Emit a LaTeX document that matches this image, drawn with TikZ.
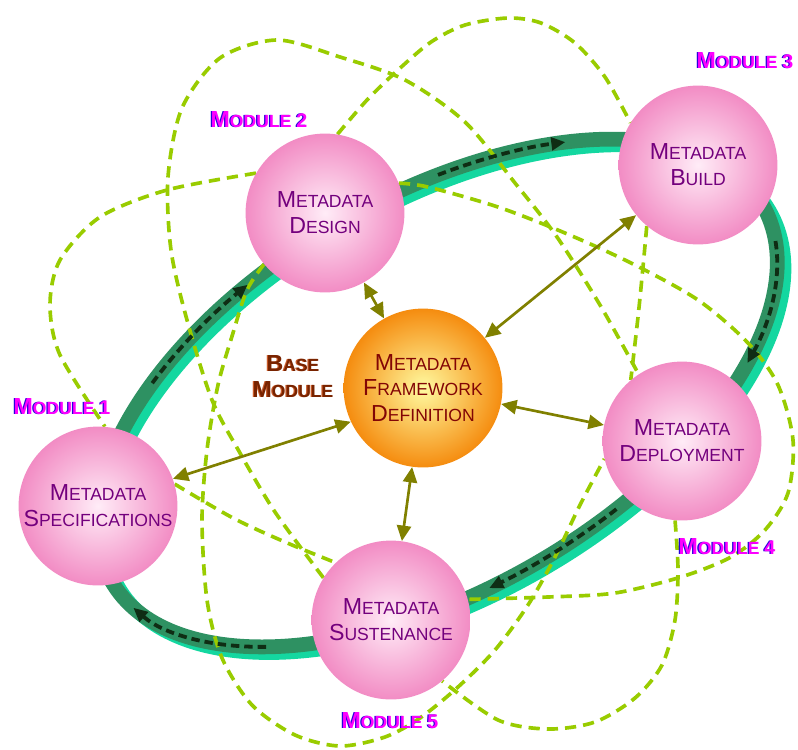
\documentclass[tikz,border=0pt]{standalone}
\usepackage{fontspec}
\setmainfont{Liberation Sans}
\usetikzlibrary{arrows.meta}
\usetikzlibrary{backgrounds}

\definecolor{modpink}{RGB}{255,0,255}
\definecolor{modblue}{RGB}{40,0,220}
\definecolor{mdpurple}{RGB}{115,0,125}
\definecolor{fwred}{RGB}{130,5,5}
\definecolor{basebrown}{RGB}{120,35,0}
\definecolor{baseshadow}{RGB}{200,90,40}
\definecolor{pinkin}{RGB}{255,236,247}
\definecolor{pinkout}{RGB}{242,140,196}
\definecolor{orangein}{RGB}{255,250,160}
\definecolor{orangeout}{RGB}{245,140,15}
\definecolor{ringdark}{RGB}{46,145,98}
\definecolor{ringlight}{RGB}{20,215,160}
\definecolor{ringdash}{RGB}{15,45,20}
\definecolor{orbitgreen}{RGB}{153,204,0}
\definecolor{linkolive}{RGB}{128,128,0}

\newcommand{\bigfirst}[2]{{\fontsize{16.5}{18.5}\selectfont #1}{\fontsize{12.5}{18.5}\selectfont #2}}
\newcommand{\shadowed}[3]{\makebox[0pt][l]{\kern-0.9pt\textcolor{#2}{#3}}\textcolor{#1}{#3}}
\newcommand{\modtitle}[1]{\shadowed{modpink}{modblue}{\bigfirst{M}{ODULE }{\fontsize{14}{18.5}\selectfont #1}}}

\tikzset{
  module/.style={circle, minimum size=113pt, inner sep=0pt, inner color=pinkin, outer color=pinkout, text=mdpurple, align=center, font=\fontsize{12.5}{18.5}\selectfont},
  basecircle/.style={module, inner color=orangein, outer color=orangeout, text=fwred, font=\fontsize{12.5}{18}\selectfont},
  modlabel/.style={inner sep=0pt, font=\bfseries},
  baselabel/.style={inner sep=0pt, align=center, font=\bfseries\fontsize{12.5}{18.5}\selectfont},
  link/.style={{Triangle[length=11pt,width=10pt]}-{Triangle[length=11pt,width=10pt]}, draw=linkolive, line width=1.9pt},
  orbit/.style={draw=orbitgreen, line width=2.6pt, dash pattern=on 8pt off 5pt},
  bandlite/.style={draw=ringlight, line width=10pt},
  banddark/.style={draw=ringdark, line width=10.5pt},
  ringflow/.style={draw=ringdash, line width=2.7pt, dash pattern=on 6pt off 3.5pt, -{Triangle[length=10pt,width=9pt]}}
}

\begin{document}
\begin{tikzpicture}[x=0.25mm, y=-0.25mm]
  \useasboundingbox (0,0) rectangle (798,749);

  \node[module] (spec) at (98,506) {\bigfirst{M}{ETADATA}\\\bigfirst{S}{PECIFICATIONS}};
  \node[module] (des) at (325,213) {\bigfirst{M}{ETADATA}\\\bigfirst{D}{ESIGN}};
  \node[module] (bld) at (698,165) {\bigfirst{M}{ETADATA}\\\bigfirst{B}{UILD}};
  \node[module] (dep) at (682,441) {\bigfirst{M}{ETADATA}\\\bigfirst{D}{EPLOYMENT}};
  \node[module] (sus) at (391,620) {\bigfirst{M}{ETADATA}\\\bigfirst{S}{USTENANCE}};
  \node[basecircle] (fw) at (423,388) {\bigfirst{M}{ETADATA}\\\bigfirst{F}{RAMEWORK}\\\bigfirst{D}{EFINITION}};

  \node[modlabel] (m1) at (62,407) {\modtitle{1}};
  \node[modlabel] (m2) at (259,120) {\modtitle{2}};
  \node[modlabel] (m3) at (745,61) {\modtitle{3}};
  \node[modlabel] (m4) at (727,547) {\modtitle{4}};
  \node[modlabel] (m5) at (390,721) {\modtitle{5}};
  \node[baselabel] (basemod) at (293,377) {\shadowed{basebrown}{baseshadow}{\bigfirst{B}{ASE}}\\\shadowed{basebrown}{baseshadow}{\bigfirst{M}{ODULE}}};

  \coordinate (ringc) at (437,393);

  \begin{pgfonlayer}{background}
    % the ring
    \begin{scope}[shift={(ringc)}, rotate=30]
      \draw[bandlite] (3.1,8.7) ellipse [x radius=376, y radius=197];
      \draw[banddark] (0,0) ellipse [x radius=376, y radius=197];
    \end{scope}

    % orbits
    \draw[orbit] plot[smooth] coordinates {(des.150) (167,190) (100,217) (60,260) (50,305) (60,355) (spec.85)};
    \draw[orbit] plot[smooth] coordinates {(sus.148) (275,512) (240,453) (212,400) (187,320) (171,250) (168,177) (182,108) (220,58) (277,40) (340,57) (405,80) (465,122) (515,183) (557,237) (600,305) (dep.123)};
    \draw[orbit] plot[smooth] coordinates {(des.81) (367,100) (398,70) (431,42) (465,25) (508,18) (541,23) (575,43) (605,77) (bld.148)};
    \draw[orbit] plot[smooth] coordinates {(des.22) (428,187) (498,207) (565,233) (631,263) (698,300) (748,343) (778,385) (793,440) (788,493) (765,530) (731,557) (681,577) (615,593) (548,597) (sus.15)};
    \draw[orbit] plot[smooth] coordinates {(des.220) (247,290) (233,333) (218,385) (207,450) (202,520) (207,600) (222,658) (252,705) (295,735) (340,746) (385,737) (420,718) (458,687) (495,650) (528,605) (555,557) (580,505) (dep.193)};
    \draw[orbit] plot[smooth] coordinates {(bld.230) (643,267) (638,317) (dep.130)};
    \draw[orbit] plot[smooth] coordinates {(dep.265) (678,570) (675,620) (662,665) (635,698) (595,722) (548,729) (498,720) (sus.310)};
    \draw[orbit] plot[smooth] coordinates {(spec.16) (233,518) (285,542) (sus.134)};

    % flow along the ring
    \begin{scope}[shift={(ringc)}, rotate=30]
      \draw[ringflow] (-130:376 and 197) arc [start angle=-130, end angle=-107, x radius=376, y radius=197];
      \draw[ringflow] (-73:376 and 197) arc [start angle=-73, end angle=-51, x radius=376, y radius=197];
      \draw[ringflow] (11:376 and 197) arc [start angle=11, end angle=41, x radius=376, y radius=197];
      \draw[ringflow] (75:376 and 197) arc [start angle=75, end angle=98, x radius=376, y radius=197];
      \draw[ringflow] (137:376 and 197) arc [start angle=137, end angle=170, x radius=376, y radius=197];
    \end{scope}

    % links to the base module
    \draw[link] (fw) -- (des);
    \draw[link] (fw) -- (bld);
    \draw[link] (fw) -- (dep);
    \draw[link] (fw) -- (sus);
    \draw[link] (fw.205) -- (spec.20);
  \end{pgfonlayer}
\end{tikzpicture}
\end{document}
